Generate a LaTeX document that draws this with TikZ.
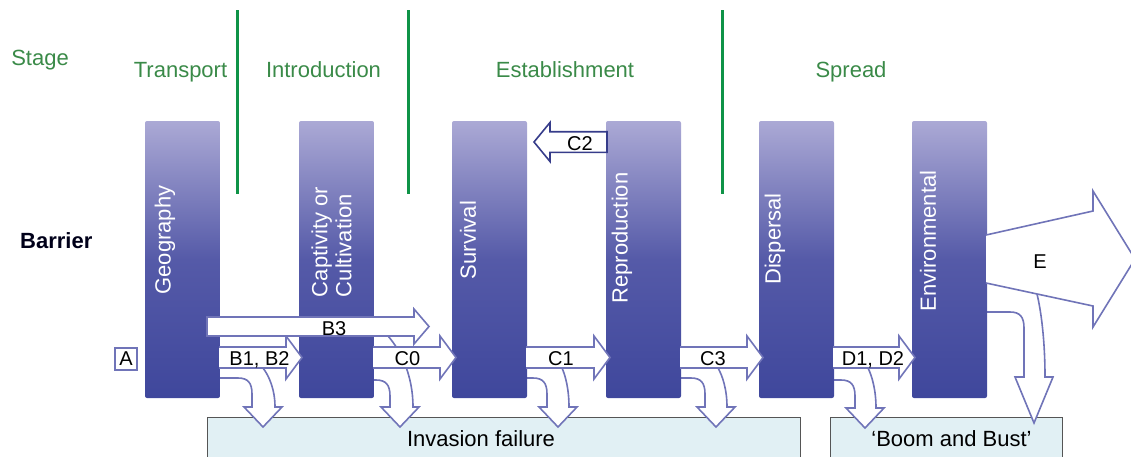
\documentclass[tikz,border=0pt]{standalone}
\usepackage{fontspec}
\setmainfont{Liberation Sans}
\definecolor{stagegreen}{HTML}{3A8A48}
\definecolor{linegreen}{HTML}{0F9347}
\definecolor{ptop}{HTML}{ABA9D5}
\definecolor{pmid}{HTML}{555AA8}
\definecolor{pbot}{HTML}{3F479C}
\definecolor{arrline}{HTML}{7074B8}
\definecolor{darkline}{HTML}{363C8A}
\definecolor{boxfill}{HTML}{E1F0F4}
\definecolor{boxline}{HTML}{555555}
\newcommand\FailArrow[9]{%
 \path[blk] ({#1-2},#2) -- ({#3-14},#2) .. controls ({#3-4},#2) and (#3,{#2+5}) .. (#3,{#2+16}) -- (#3,#7) -- ({#8-19},#7) -- (#8,#9) -- ({#8+19},#7) -- (#6,#7) .. controls (#6,{#7-0.45*(#7-#5)}) and ({#4+0.5*(#6-#4)},{#5+0.2*(#7-#5)}) .. (#4,#5);}
\newcommand\RArrow[3]{%
 \path[blk] ({#1-1},{#3-10.5}) -- ({#2-16},{#3-10.5}) -- ({#2-16},{#3-21.5}) -- (#2,#3) -- ({#2-16},{#3+21.5}) -- ({#2-16},{#3+10.5}) -- ({#1-1},{#3+10.5});}
\begin{document}
\begin{tikzpicture}[x=1pt,y=-1pt,
  stagetxt/.style={text=stagegreen, font=\fontsize{22}{26}\selectfont, anchor=base, inner sep=0},
  greenline/.style={draw=linegreen, line width=3pt},
  pillar/.style={rectangle, rounded corners=2pt, minimum width=75pt, minimum height=277pt, top color=ptop, bottom color=pbot, middle color=pmid, inner sep=0, draw=none},
  ptext/.style={text=white, rotate=90, font=\fontsize{22}{24}\selectfont, align=left, inner sep=0},
  blk/.style={fill=white, draw=arrline, line width=1.6pt, line join=miter},
  lbl/.style={font=\fontsize{20}{22}\selectfont, anchor=base, inner sep=0, text=black},
  failbox/.style={draw=boxline, line width=1pt, fill=boxfill, inner sep=0},
  boxtxt/.style={font=\fontsize{22}{26}\selectfont, anchor=base, inner sep=0, text=black},
]
\useasboundingbox (0,0) rectangle (1131,456);
% stage labels
\node[stagetxt] (stage) at (40,65) {Stage};
\node[stagetxt] (transport) at (180.5,77) {Transport};
\node[stagetxt] (introduction) at (323.5,77) {Introduction};
\node[stagetxt] (establishment) at (565,77) {Establishment};
\node[stagetxt] (spread) at (851,77) {Spread};
\draw[greenline] (237.5,10) -- (237.5,194);
\draw[greenline] (408,10) -- (408,194);
\draw[greenline] (722.5,10) -- (722.5,194);
\node[anchor=base west, inner sep=0, font=\bfseries\fontsize{22}{26}\selectfont, text=black!90!blue] (barrier) at (20,248.3) {Barrier};
% outcome boxes
\node[failbox, anchor=north west, minimum width=593pt, minimum height=50pt] (inv) at (207,416.5) {};
\node[failbox, anchor=north west, minimum width=232pt, minimum height=50pt] (boom) at (830,417) {};
\node[boxtxt] (invtxt) at (481,446.7) {Invasion failure};
\node[boxtxt] (boomtxt) at (951.5,446.7) {‘Boom and Bust’};
% failure arrows
\FailArrow{220}{378}{252}{263}{368}{275}{407}{263}{427}
\FailArrow{374}{380}{390}{388}{336}{413}{407}{400}{427}
\FailArrow{527}{378}{547}{562}{368}{569}{407}{558}{427}
\FailArrow{681}{378}{705}{718}{368}{727}{407}{716}{427}
\FailArrow{834}{380}{855}{868}{368}{876}{408}{865}{428}
\FailArrow{987}{312}{1024}{1037}{294}{1045}{377}{1034}{423}
% pillars
\node[pillar] (geo) at (182.5,259.5) {};
\node[pillar] (capt) at (336.5,259.5) {};
\node[pillar] (surv) at (489.5,259.5) {};
\node[pillar] (repr) at (643.5,259.5) {};
\node[pillar] (disp) at (796.5,259.5) {};
\node[pillar] (env) at (949.5,259.5) {};
\node[ptext] (geotxt) at (165,240) {Geography};
\node[ptext] (capttxt) at (331.5,242) {Captivity or\\Cultivation};
\node[ptext] (survtxt) at (468,240) {Survival};
\node[ptext] (reprtxt) at (622,238) {Reproduction};
\node[ptext] (disptxt) at (775,239) {Dispersal};
\node[ptext] (envtxt) at (928,241) {Environmental};
% horizontal arrows
\RArrow{220}{302}{357.5}
\RArrow{374}{456}{357.5}
\RArrow{527}{610}{357.5}
\RArrow{681}{763}{357.5}
\RArrow{834}{915}{357.5}
\node[lbl] (b12) at (259.5,365) {B1, B2};
\node[lbl] (c0) at (407.5,365) {C0};
\node[lbl] (c1) at (561,365) {C1};
\node[lbl] (c3) at (713,365) {C3};
\node[lbl] (d12) at (873,365) {D1, D2};
% C2 (backwards)
\path[blk, draw=darkline] (607,131.7) -- (550,131.7) -- (550,122.5) -- (534,142) -- (550,161.5) -- (550,152.3) -- (607,152.3) -- cycle;
\node[lbl] (c2) at (580,150) {C2};
% E arrow
\path[blk] (986,235) -- (1093,211) -- (1093,191) -- (1135,259) -- (1093,327) -- (1093,306) -- (986,283);
\node[lbl] (e) at (1040,268) {E};
% B3 arrow
\path[blk] (207,317) -- (414,317) -- (414,309) -- (429,326.5) -- (414,344) -- (414,336) -- (207,336) -- cycle;
\node[lbl] (b3) at (334,335) {B3};
% A box
\node[draw=arrline, line width=1.3pt, fill=white, minimum width=22pt, minimum height=22pt, inner sep=0, font=\fontsize{20}{22}\selectfont] (a) at (126,359) {A};
\end{tikzpicture}
\end{document}
